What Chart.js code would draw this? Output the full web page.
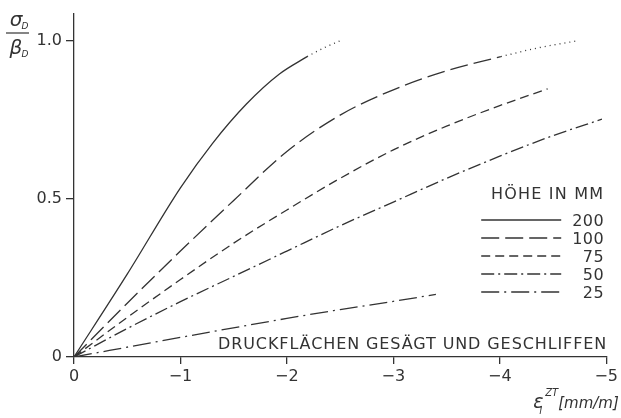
<!DOCTYPE html>
<html>
<head>
<meta charset="utf-8">
<script src="https://cdn.jsdelivr.net/npm/chart.js@4/dist/chart.umd.min.js"></script>
<style>
  html, body { margin: 0; padding: 0; background: #fff; }
  #wrap { width: 621px; height: 418px; }
</style>
</head>
<body>
<div id="wrap"><canvas id="chart" width="621" height="418"></canvas></div>
<script>
// Werte (Dehnung in mm/m, sigma/beta)
const strain200 = [0, -0.5, -1.0, -1.3, -1.62, -1.93, -2.19];
const ratio200  = [0, 0.262, 0.535, 0.675, 0.80, 0.895, 0.95];
const strain200x = [-2.19, -2.35, -2.5];
const ratio200x  = [0.95, 0.978, 1.0];

const strain100 = [0, -0.5, -1.0, -1.5, -2.0, -2.5, -3.0, -3.5, -4.01];
const ratio100  = [0, 0.17, 0.335, 0.495, 0.65, 0.765, 0.845, 0.905, 0.95];
const strain100x = [-4.01, -4.35, -4.73];
const ratio100x  = [0.95, 0.977, 1.0];

const strain75 = [0, -0.5, -1.0, -1.5, -2.0, -2.5, -3.0, -3.5, -4.0, -4.45];
const ratio75  = [0, 0.125, 0.245, 0.36, 0.465, 0.565, 0.655, 0.73, 0.795, 0.848];

const strain50 = [0, -0.5, -1.0, -1.5, -2.0, -2.5, -3.0, -3.5, -4.0, -4.5, -4.96];
const ratio50  = [0, 0.09, 0.175, 0.255, 0.335, 0.415, 0.49, 0.565, 0.635, 0.70, 0.752];

const strain25 = [0, -1.0, -2.0, -2.5, -3.0, -3.4];
const ratio25  = [0, 0.062, 0.122, 0.15, 0.176, 0.198];

const xTicks = [0, -1, -2, -3, -4, -5];
const yTicks = [0, 0.5, 1.0];

const ink = '#333';
const fontFam = '"DejaVu Sans", sans-serif';

function pts(xs, ys) {
  return xs.map((x, i) => ({ x: x, y: ys[i] }));
}

function line(label, xs, ys, dash) {
  return {
    label: label,
    data: pts(xs, ys),
    borderColor: ink,
    borderWidth: 1.3,
    borderDash: dash,
    pointRadius: 0,
    showLine: true,
    fill: false,
    cubicInterpolationMode: 'monotone'
  };
}

const dashes = {
  '200': [],
  '100': [18, 6],
  '75': [9, 5],
  '50': [13, 4, 2, 4],
  '25': [18, 5, 2, 5]
};

const datasets = [
  line('200', strain200, ratio200, dashes['200']),
  line('', strain200x, ratio200x, [1, 4]),
  line('100', strain100, ratio100, dashes['100']),
  line('', strain100x, ratio100x, [1, 4]),
  line('75', strain75, ratio75, dashes['75']),
  line('50', strain50, ratio50, dashes['50']),
  line('25', strain25, ratio25, dashes['25'])
];

// Beschriftungen, Legende und Achsentitel
const annotations = {
  id: 'annotations',
  afterDraw(chart) {
    const ctx = chart.ctx;
    const a = chart.chartArea;
    ctx.save();
    ctx.fillStyle = ink;
    ctx.strokeStyle = ink;

    // y-Achsentitel: sigma_D / beta_D
    ctx.font = 'italic 20px ' + fontFam;
    ctx.textAlign = 'center';
    ctx.textBaseline = 'alphabetic';
    ctx.fillText('σ', 16, 26);
    ctx.fillText('β', 16, 54);
    ctx.font = 'italic 9px ' + fontFam;
    ctx.fillText('D', 25, 29);
    ctx.fillText('D', 25, 57);
    ctx.lineWidth = 1.2;
    ctx.beginPath();
    ctx.moveTo(6, 33);
    ctx.lineTo(29, 33);
    ctx.stroke();

    // x-Achsentitel
    const tx = a.right - 73;
    const ty = 408;
    ctx.textAlign = 'left';
    ctx.font = 'italic 19px ' + fontFam;
    ctx.fillText('ε', tx, ty);
    ctx.font = 'italic 10px ' + fontFam;
    ctx.fillText('l', tx + 6, ty + 6);
    ctx.fillText('ZT', tx + 12, ty - 12);
    ctx.font = 'italic 15px ' + fontFam;
    ctx.fillText('[mm/m]', tx + 25, ty);

    // Hinweis
    ctx.font = '16px ' + fontFam;
    ctx.letterSpacing = '0.9px';
    ctx.textAlign = 'right';
    ctx.fillText('DRUCKFLÄCHEN GESÄGT UND GESCHLIFFEN', a.right + 1, 349);

    // Legende
    const right = a.right - 2;
    ctx.letterSpacing = '1.2px';
    ctx.fillText('HÖHE IN MM', right, 199);
    ctx.letterSpacing = '0.5px';
    const legendSets = chart.data.datasets.filter(d => d.label !== '');
    legendSets.forEach((d, i) => {
      const y = 220 + i * 18;
      ctx.fillText(d.label, right, y + 6);
      ctx.lineWidth = 1.3;
      ctx.setLineDash(d.borderDash);
      ctx.beginPath();
      ctx.moveTo(right - 123, y);
      ctx.lineTo(right - 43, y);
      ctx.stroke();
      ctx.setLineDash([]);
    });
    ctx.restore();
  }
};

new Chart(document.getElementById('chart').getContext('2d'), {
  type: 'scatter',
  data: { datasets: datasets },
  options: {
    responsive: false,
    animation: false,
    layout: { padding: { top: 5, right: 10, left: 0, bottom: 0 } },
    plugins: { legend: { display: false }, tooltip: { enabled: false } },
    scales: {
      x: {
        type: 'linear',
        min: -5,
        max: 0,
        reverse: true,
        afterBuildTicks: s => { s.ticks = xTicks.map(v => ({ value: v })); },
        afterFit: s => { s.height = 61; },
        ticks: {
          color: ink,
          padding: 3,
          maxRotation: 0,
          font: { family: fontFam, size: 16 },
          callback: v => (v === 0 ? '0' : '−' + Math.abs(v))
        },
        grid: { drawOnChartArea: false, drawTicks: true, tickLength: 7, color: ink, lineWidth: 1.3 },
        border: { display: true, color: ink, width: 1.3 }
      },
      y: {
        type: 'linear',
        min: 0,
        max: 1.086,
        afterBuildTicks: s => { s.ticks = yTicks.map(v => ({ value: v })); },
        afterFit: s => { s.width = 74; },
        ticks: {
          color: ink,
          padding: 4,
          font: { family: fontFam, size: 16 },
          callback: v => (v === 0 ? '0' : v.toFixed(1))
        },
        grid: { drawOnChartArea: false, drawTicks: true, tickLength: 8, color: ink, lineWidth: 1.3 },
        border: { display: true, color: ink, width: 1.3 }
      }
    }
  },
  plugins: [annotations]
});
</script>
</body>
</html>
